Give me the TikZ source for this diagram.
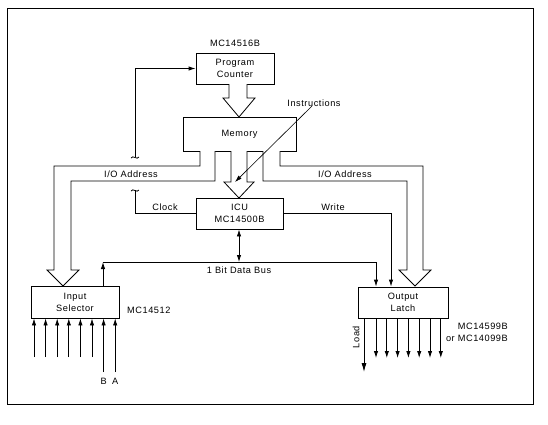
\documentclass[tikz,border=0pt]{standalone}
\usepackage{fontspec}
\setmainfont[LetterSpace=6]{Liberation Sans}
\usetikzlibrary{arrows.meta}
\newcommand{\lblfont}{\fontsize{9.2}{12}\selectfont}
\tikzset{
  boxnode/.style={draw, line width=0.8pt, fill=white, align=center, inner sep=0pt, font=\lblfont},
  txt/.style={inner sep=0pt, font=\lblfont},
  sig/.style={line width=0.8pt, -{Latex[length=7pt,width=4.4pt]}},
  sigboth/.style={line width=0.8pt, {Latex[length=7pt,width=4.4pt]}-{Latex[length=7pt,width=4.4pt]}},
  wire/.style={line width=0.8pt},
  fat/.style={line width=0.8pt, fill=white, line join=miter},
}
\begin{document}
\begin{tikzpicture}[x=1pt,y=-1pt]
\useasboundingbox (0,0) rectangle (548,424);
% frame
\draw[line width=1pt] (7,8) rectangle (533,404);

% nodes
\node[boxnode, minimum width=78pt, minimum height=31pt] (pc) at (235,68.5) {Program\\Counter};
\node[txt] (pclbl) at (235,43) {MC14516B};
\node[boxnode, minimum width=113pt, minimum height=34pt] (mem) at (239.5,134) {Memory};
\node[boxnode, minimum width=87pt, minimum height=31pt] (icu) at (239.5,213.5) {ICU\\MC14500B};
\node[boxnode, minimum width=88pt, minimum height=32pt] (insel) at (75,302) {Input\\Selector};
\node[txt, anchor=west] (insellbl) at (127,310) {MC14512};
\node[boxnode, minimum width=90pt, minimum height=31pt] (latch) at (403,302.5) {Output\\Latch};
\node[txt, align=right, anchor=east] (latchlbl) at (508,332.5) {MC14599B\\or MC14099B};

% Program counter -> memory fat arrow
\draw[fat] (229,84) -- (229,98) -- (223,98) -- (239,117) -- (255,98) -- (247,98) -- (247,84);
% Memory -> ICU fat arrow
\draw[fat] (231,151) -- (231,182) -- (224,182) -- (239,198) -- (254,182) -- (247,182) -- (247,151);
% Left I/O address bus
\draw[fat] (200,151) -- (200,166) -- (54,166) -- (54,270) -- (47,270) -- (63,286) -- (79,270) -- (71,270) -- (71,181) -- (215,181) -- (215,151);
\node[txt] (ioleft) at (131,174) {I/O Address};
% Right I/O address bus
\draw[fat] (280,151) -- (280,166) -- (423,166) -- (423,270) -- (431,270) -- (415,286) -- (399,270) -- (407,270) -- (407,181) -- (263,181) -- (263,151);
\node[txt] (ioright) at (345,174) {I/O Address};

% Instructions pointer
\node[txt] (instr) at (314,103) {Instructions};
\coordinate (instrtip) at (235,182);
\draw[line width=0.6pt, -{Latex[length=7pt,width=4.4pt]}] (312,106) -- (instrtip);

% feedback to program counter
\coordinate (fbend) at (135,157);
\draw[sig] (fbend) |- (pc.west);
\draw[wire] (131,158) .. controls (133,154.5) and (137,160.5) .. (139,157);

% clock
\coordinate (clkend) at (135,190);
\draw[wire] (icu.west) -| (clkend);
\draw[wire] (131,191) .. controls (133,187.5) and (137,193.5) .. (139,190);
\node[txt] (clk) at (165,207) {Clock};

% write
\coordinate (wr) at (391,213);
\draw[sig] (icu.east) -| (wr |- latch.north);
\node[txt] (wrlbl) at (333,207) {Write};

% data bus
\coordinate (busl) at (103,262);
\coordinate (busr) at (376,262);
\coordinate (busc) at (239,262);
\draw[sig] (busl |- insel.north) -- (busl);
\draw[sig] (busl) -- (busr) -- (busr |- latch.north);
\draw[sigboth] (icu.south -| busc) -- (busc);
\node[txt] (buslbl) at (239,270) {1 Bit Data Bus};

% input lines
\foreach \i in {0,...,5} {
  \draw[sig] ({34+11.6*\i},357) -- ({34+11.6*\i},357 |- insel.south);
}
\draw[sig] (103.6,372) -- (103.6,372 |- insel.south);
\draw[sig] (115.2,372) -- (115.2,372 |- insel.south);
\node[txt] (lblB) at (103.6,381) {B};
\node[txt] (lblA) at (115.2,381) {A};

% output lines
\draw[line width=0.8pt, -{Latex[length=9pt,width=5pt]}] (364,372 |- latch.south) -- (364,372);
\node[txt, rotate=90] (load) at (356,337) {Load};
\foreach \i in {0,...,6} {
  \draw[sig] ({376+10.8*\i},358 |- latch.south) -- ({376+10.8*\i},358);
}
\end{tikzpicture}
\end{document}
